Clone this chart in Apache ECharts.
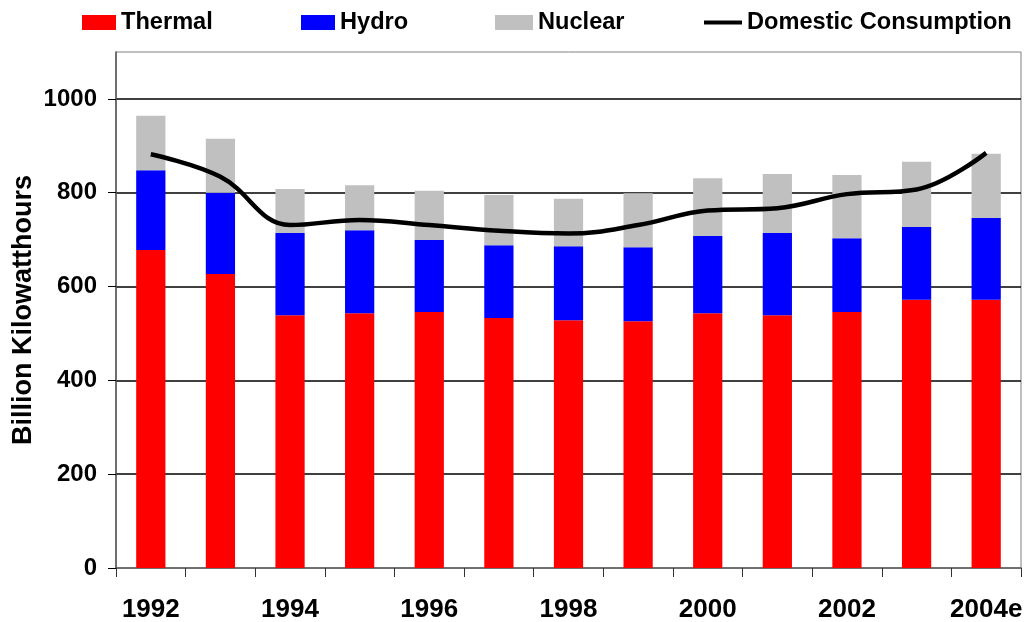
<!DOCTYPE html>
<html>
<head>
<meta charset="utf-8">
<title>Electricity generation and consumption</title>
<script src="https://cdn.jsdelivr.net/npm/echarts@6/dist/echarts.min.js"></script>
<style>
    html, body {
        margin: 0;
        padding: 0;
        background: #ffffff;
    }

    #chart {
        width: 1029px;
        height: 622px;
    }
</style>
</head>
<body>
<div id="chart"></div>
<script>
// values, billion kWh
const years = ['1992', '1993', '1994', '1995', '1996', '1997', '1998', '1999', '2000', '2001', '2002', '2003', '2004e']
const thermal = [678, 627, 539, 543, 546, 533, 528, 526, 543, 539, 546, 572, 572]
const hydro = [170, 173, 175, 177, 153, 155, 158, 158, 165, 175, 157, 155, 174]
const nuclear = [116, 115, 94, 96, 105, 107, 101, 115, 123, 126, 135, 139, 137]
const consumption = [882, 834, 731, 742, 731, 719, 713, 731, 762, 767, 797, 807, 885]

const font = 'Liberation Sans'
const textStyle = {
    fontFamily: font,
    fontWeight: 'bold',
    fontSize: 24,
    color: '#000',
    lineHeight: 24
}

// one legend per entry so each sits where the original has it
function legendAt(left, name, width, height) {
    return {
        left: left,
        top: 10,
        padding: 0,
        data: [name],
        itemWidth: width,
        itemHeight: height,
        itemGap: 0,
        icon: 'rect',
        textStyle: Object.assign({}, textStyle, {fontSize: 23.6, lineHeight: 25}),
        selectedMode: false
    }
}

let chart = echarts.init(document.getElementById('chart'))
let option = {
    animation: false,
    backgroundColor: '#ffffff',
    legend: [
        legendAt(82, 'Thermal', 34, 15),
        legendAt(301, 'Hydro', 34, 15),
        legendAt(495, 'Nuclear', 38, 15),
        legendAt(704, 'Domestic Consumption', 38, 4)
    ],
    grid: {
        left: 116,
        right: 8,
        top: 52,
        bottom: 54,
        outerBoundsMode: 'none',
        containLabel: false,
        show: true,
        borderColor: '#808080',
        borderWidth: 1
    },
    xAxis: {
        type: 'category',
        data: years,
        boundaryGap: true,
        axisLine: {lineStyle: {color: '#555', width: 1.5}},
        axisTick: {show: true, interval: 0, length: 9, lineStyle: {color: '#333'}},
        axisLabel: Object.assign({}, textStyle, {interval: 1, margin: 29, fontSize: 26, lineHeight: 26})
    },
    yAxis: {
        type: 'value',
        min: 0,
        max: 1100,
        interval: 200,
        name: 'Billion Kilowatthours',
        nameLocation: 'middle',
        nameRotate: 90,
        nameGap: 79,
        nameMoveOverlap: false,
        nameTextStyle: Object.assign({}, textStyle, {fontSize: 27, lineHeight: 27}),
        axisLine: {show: true, lineStyle: {color: '#555', width: 1.5}},
        axisTick: {show: true, length: 8, lineStyle: {color: '#000'}},
        axisLabel: Object.assign({margin: 19, showMaxLabel: false, formatter: v => String(v)}, textStyle),
        splitLine: {show: true, showMinLine: false, showMaxLine: false, lineStyle: {color: '#000', width: 1.5}}
    },
    series: [
        {
            name: 'Thermal',
            type: 'bar',
            stack: 'gen',
            barWidth: '42%',
            itemStyle: {color: '#ff0000'},
            data: thermal
        },
        {
            name: 'Hydro',
            type: 'bar',
            stack: 'gen',
            barWidth: '42%',
            itemStyle: {color: '#0000ff'},
            data: hydro
        },
        {
            name: 'Nuclear',
            type: 'bar',
            stack: 'gen',
            barWidth: '42%',
            itemStyle: {color: '#c0c0c0'},
            data: nuclear
        },
        {
            name: 'Domestic Consumption',
            type: 'line',
            smooth: 0.4,
            symbol: 'none',
            lineStyle: {color: '#000', width: 4.5},
            itemStyle: {color: '#000'},
            z: 5,
            data: consumption
        }
    ]
}
chart.setOption(option)
</script>
</body>
</html>
